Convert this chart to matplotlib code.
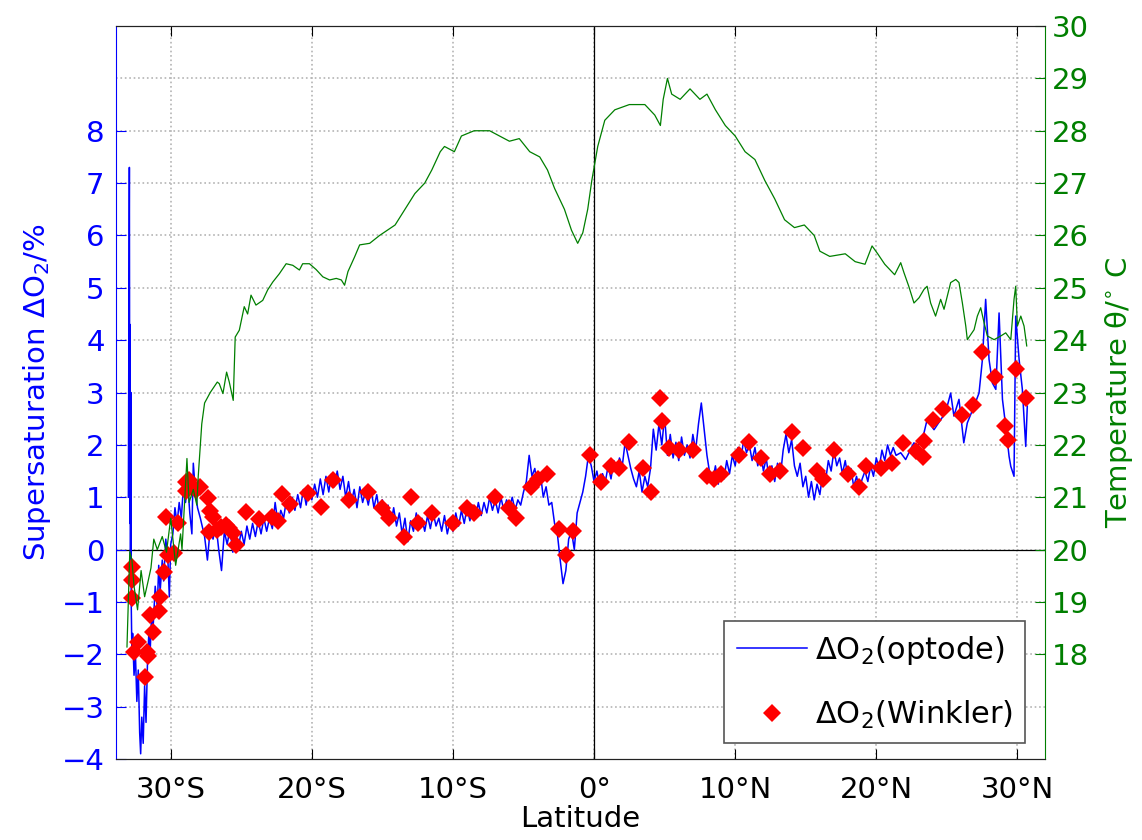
import numpy as np
import matplotlib
matplotlib.use("Agg")
import matplotlib.pyplot as plt

plt.rcParams['font.family'] = ['DejaVu Sans']
plt.rcParams['mathtext.fontset'] = 'dejavusans'

# optode supersaturation (latitude, %), read in three stretches
south_lat = [-33.0, -32.93, -32.9, -32.88, -32.85, -32.82, -32.8, -32.75, -32.7, -32.6, -32.5, -32.4,
             -32.3, -32.2, -32.13, -32.05, -31.95, -31.85, -31.75, -31.65, -31.55, -31.45, -31.35,
             -31.25, -31.1, -30.95, -30.85, -30.75, -30.6, -30.5, -30.35, -30.2, -30.1, -30.0,
             -29.85, -29.7, -29.55, -29.4, -29.25, -29.1, -28.95, -28.8, -28.65, -28.5, -28.4,
             -28.25, -28.1, -27.9, -27.6, -27.4, -27.2]
south_val = [1.0, 7.3, 0.5, 4.3, -0.3, 3.0, -1.0, -2.0, -1.6, -2.4, -2.0, -2.9,
             -2.3, -3.5, -3.9, -3.2, -3.7, -2.6, -3.3, -2.2, -1.6, -1.9, -1.2,
             -1.5, -0.7, -1.1, -0.3, -0.8, -0.2, -0.6, 0.2, -0.2, -0.9, 0.1,
             0.3, 0.8, 0.5, 0.9, 0.6, 1.2, 0.9, 1.3, 0.7, 0.3, 1.65,
             1.1, 0.8, 0.6, 0.25, -0.2, 0.4]

mid_lat = [-27.0, -26.8, -26.6, -26.4, -26.2, -26.0, -25.8, -25.6, -25.4, -25.2,
           -25.0, -24.8, -24.6, -24.4, -24.2, -24.0, -23.8, -23.6, -23.4, -23.2,
           -23.0, -22.8, -22.6, -22.4, -22.2, -22.0, -21.8, -21.6, -21.4, -21.2,
           -21.0, -20.8, -20.6, -20.4, -20.2, -20.0, -19.8, -19.6, -19.4, -19.2,
           -19.0, -18.8, -18.6, -18.4, -18.2, -18.0, -17.8, -17.6, -17.4, -17.2,
           -17.0, -16.8, -16.6, -16.4, -16.2, -16.0, -15.8, -15.6, -15.4, -15.2,
           -15.0, -14.8, -14.6, -14.4, -14.2, -14.0, -13.8, -13.6, -13.4, -13.2,
           -13.0, -12.8, -12.6, -12.4, -12.2, -12.0, -11.8, -11.6, -11.4, -11.2,
           -11.0, -10.8, -10.6, -10.4, -10.2, -10.0, -9.8, -9.6, -9.4, -9.2,
           -9.0, -8.8, -8.6, -8.4, -8.2, -8.0, -7.8, -7.6, -7.4, -7.2,
           -7.0, -6.8, -6.6, -6.4, -6.2, -6.0, -5.8, -5.6, -5.4, -5.2,
           -5.0, -4.8, -4.6, -4.4, -4.2, -4.0, -3.8, -3.6, -3.4, -3.2,
           -3.0, -2.8, -2.6, -2.4, -2.2, -2.0, -1.8, -1.6, -1.4, -1.2,
           -1.0, -0.8, -0.6, -0.4, -0.2, 0.0, 0.2, 0.4, 0.6, 0.8,
           1.0, 1.2, 1.4, 1.6, 1.8, 2.0, 2.2, 2.4, 2.6, 2.8,
           3.0, 3.2, 3.4, 3.6, 3.8, 4.0, 4.2, 4.4, 4.6, 4.8,
           5.0, 5.2, 5.4, 5.6, 5.8, 6.0, 6.2, 6.4, 6.6, 6.8,
           7.0, 7.2, 7.4, 7.6, 7.8, 8.0, 8.2, 8.4, 8.6, 8.8,
           9.0, 9.2, 9.4, 9.6, 9.8, 10.0, 10.2, 10.4, 10.6, 10.8,
           11.0, 11.2, 11.4, 11.6, 11.8, 12.0, 12.2, 12.4, 12.6, 12.8,
           13.0, 13.2, 13.4, 13.6, 13.8, 14.0, 14.2, 14.4, 14.6, 14.8,
           15.0, 15.2, 15.4, 15.6, 15.8, 16.0, 16.2, 16.4, 16.6, 16.8,
           17.0, 17.2, 17.4, 17.6, 17.8, 18.0, 18.2, 18.4, 18.6, 18.8,
           19.0, 19.2, 19.4, 19.6, 19.8, 20.0, 20.2, 20.4, 20.6, 20.8,
           21.0, 21.2]
mid_val = [0.2, 0.5, 0.0, -0.4, 0.35, 0.1, 0.4, -0.05, 0.35, 0.05,
           0.35, 0.1, 0.45, 0.2, 0.5, 0.25, 0.55, 0.3, 0.6, 0.35,
           0.6, 0.4, 0.9, 0.5, 0.75, 0.6, 0.95, 0.7, 1.0, 0.75,
           1.05, 0.8, 1.15, 0.85, 1.2, 0.95, 1.25, 1.0, 1.35, 1.05,
           1.4, 1.1, 1.45, 1.2, 1.5, 1.15, 1.4, 1.0, 1.3, 0.9,
           1.15, 0.8, 1.2, 0.9, 1.1, 0.85, 1.15, 0.8, 1.05, 0.7,
           0.95, 0.6, 0.85, 0.5, 0.8, 0.45, 0.7, 0.3, 0.6, 0.15,
           0.55, 0.35, 0.7, 0.4, 0.6, 0.35, 0.65, 0.4, 0.7, 0.45,
           0.6, 0.35, 0.65, 0.3, 0.55, 0.35, 0.7, 0.45, 0.75, 0.5,
           0.8, 0.55, 0.85, 0.6, 0.9, 0.65, 0.9, 0.7, 1.0, 0.75,
           0.95, 0.7, 1.0, 0.75, 0.95, 0.8, 1.0, 0.75, 0.95, 0.85,
           1.1, 1.3, 1.8, 1.4, 1.55, 1.2, 1.45, 1.0, 1.2, 0.85,
           0.9, 0.5, 0.3, -0.2, -0.65, -0.4, 0.2, 0.35, 0.0, 0.7,
           0.9, 1.1, 1.4, 1.8, 1.6, 1.3, 1.5, 1.2, 1.45, 1.3,
           1.6, 1.35, 1.7, 1.5, 1.75, 1.6, 2.05, 1.8, 1.55, 1.35,
           1.2, 1.5, 1.1, 1.4, 1.2, 1.55, 2.3, 1.9, 2.4, 2.0,
           2.55, 1.8, 2.2, 1.75, 2.05, 1.7, 2.15, 1.8, 2.0, 1.75,
           2.2, 1.9, 2.4, 2.8, 2.3, 1.8, 1.45, 1.3, 1.6, 1.25,
           1.55, 1.35, 1.7, 1.45, 1.8, 1.6, 1.95, 1.7, 2.1, 1.85,
           2.0, 1.7, 1.95, 1.6, 1.85, 1.5, 1.75, 1.35, 1.6, 1.3,
           1.65, 1.4, 1.9, 2.2, 1.85, 2.1, 1.6, 1.4, 1.65, 1.2,
           1.4, 1.0, 1.3, 0.95, 1.25, 1.05, 1.45, 1.3, 1.7, 1.5,
           1.9, 1.6, 1.75, 1.45, 1.7, 1.35, 1.55, 1.2, 1.4, 1.15,
           1.35, 1.5, 1.3, 1.6, 1.4, 1.75, 1.55, 1.9, 1.7, 2.0,
           1.8, 1.95]

north_lat = [21.4, 21.73, 22.08, 22.4, 22.67, 22.9, 23.38, 23.6, 24.09, 24.56, 24.9, 25.27, 25.5,
             25.86, 26.2, 26.45, 26.93, 27.28, 27.52, 27.75, 27.99, 28.23, 28.47, 28.7, 28.94,
             29.17, 29.41, 29.53, 29.76, 29.88, 30.12, 30.35, 30.59, 30.7]
north_val = [1.8, 1.85, 1.72, 1.9, 2.04, 1.95, 2.23, 2.48, 2.29, 2.48, 2.61, 2.99, 2.55,
             2.87, 2.04, 2.42, 2.74, 2.99, 3.63, 4.78, 3.63, 3.18, 3.06, 4.52, 2.87,
             2.36, 1.78, 1.59, 1.4, 4.46, 3.63, 3.06, 1.97, 2.74]

opt_lat = south_lat + mid_lat + north_lat
opt_val = south_val + mid_val + north_val

# Winkler samples
wink_lat = [-32.77, -32.77, -32.77, -32.6, -32.3, -31.85, -31.66, -31.62, -31.5, -31.26, -30.8,
            -30.78, -30.47, -30.3, -30.17, -29.76, -29.5, -28.93, -28.9, -28.7, -28.2, -27.9,
            -27.35, -27.2, -26.97, -27.27, -26.7, -26.45, -26.05, -25.85, -25.6, -25.4, -24.7,
            -23.77, -22.84, -22.4, -22.13, -21.54, -20.24, -19.38, -18.5, -17.4,
            -16.0, -15.0, -14.5, -13.5, -13.0, -12.5, -11.5, -10.0, -9.0, -8.5, -7.0, -6.0,
            -5.5, -4.5, -4.0, -3.3, -2.5, -2.0, -1.5, -0.3, 0.5, 1.2, 1.8, 2.5, 3.5, 4.0,
            4.7, 4.8, 5.3, 6.0, 7.0, 8.0, 8.5, 9.0, 10.3, 11.0, 11.8, 12.5, 13.2, 14.0,
            14.8, 15.8, 16.2, 17.0, 18.0, 18.8, 19.3, 20.3, 21.1,
            21.92, 22.79, 23.33, 23.38, 24.02, 24.75, 26.1, 26.86, 27.52, 28.42, 29.1,
            29.34, 29.88, 30.64]
wink_val = [-0.34, -0.58, -0.93, -1.95, -1.76, -2.43, -1.95, -2.03, -1.25, -1.57, -1.18,
            -0.9, -0.43, 0.62, -0.11, -0.06, 0.5, 1.3, 1.11, 1.33, 1.14, 1.2,
            0.98, 0.73, 0.63, 0.34, 0.38, 0.44, 0.47, 0.41, 0.31, 0.09, 0.71,
            0.58, 0.62, 0.54, 1.06, 0.87, 1.09, 0.81, 1.33, 0.94,
            1.1, 0.8, 0.6, 0.25, 1.0, 0.5, 0.7, 0.5, 0.8, 0.7, 1.0, 0.8,
            0.6, 1.2, 1.35, 1.45, 0.4, -0.1, 0.35, 1.8, 1.3, 1.6, 1.55, 2.05, 1.55, 1.1,
            2.9, 2.45, 1.95, 1.9, 1.9, 1.4, 1.35, 1.45, 1.8, 2.05, 1.75, 1.45, 1.5, 2.25,
            1.95, 1.5, 1.35, 1.9, 1.45, 1.2, 1.6, 1.55, 1.65,
            2.04, 1.88, 1.77, 2.07, 2.48, 2.68, 2.57, 2.77, 3.77, 3.29, 2.37,
            2.1, 3.44, 2.9]

# potential temperature (latitude, degC)
temp_lat = [-33.1, -32.9, -32.75, -32.6, -32.35, -32.1, -31.85, -31.6, -31.4, -31.2, -30.95,
            -30.6, -30.3, -30.0, -29.65, -29.3, -29.2, -28.85, -28.7, -28.4, -28.15, -28.05,
            -27.8, -27.6, -27.2, -26.7, -26.56, -26.3, -26.04, -25.85, -25.57, -25.43, -25.14,
            -24.79, -24.55, -24.31, -23.96, -23.48, -23.13, -22.77, -22.3, -21.82, -21.35,
            -20.88, -20.65, -20.17, -19.7, -19.22, -18.74, -18.27, -17.91, -17.68, -17.44,
            -16.97, -16.61, -15.9, -15.2, -14.1, -13.4, -12.7, -12.0, -11.5, -10.9, -10.6,
            -9.9, -9.4, -8.5, -7.4, -6.7, -6.0, -5.3, -4.56, -3.85, -3.3, -2.8, -2.1, -1.6,
            -1.16, -0.8, -0.45, -0.16, 0.26, 0.76, 1.47, 2.5, 3.6, 4.3, 4.7, 4.9, 5.2, 5.5,
            6.1, 6.8, 7.5, 8.0, 8.6, 9.3, 10.0, 10.7, 11.4, 12.1, 12.8, 13.5, 14.2, 14.9,
            15.6, 16.0, 16.7, 17.8, 18.5, 19.2, 19.7, 20.1, 20.6, 21.3, 21.73, 21.96, 22.3,
            22.67, 23.03, 23.38, 23.6, 23.85, 24.2, 24.56, 24.8, 25.27, 25.63, 25.86, 26.1,
            26.34, 26.45, 26.93, 27.16, 27.4, 27.64, 27.87, 28.35, 28.82, 29.17, 29.53, 29.76,
            29.88, 30.0, 30.24, 30.47, 30.66]
temp_val = [18.14, 19.96, 19.8, 19.3, 18.85, 19.6, 19.1, 19.4, 19.65, 20.2, 20.0,
            20.25, 19.95, 20.6, 19.7, 20.3, 20.0, 21.74, 20.9, 21.15, 20.85, 21.4,
            22.4, 22.8, 23.0, 23.2, 23.17, 22.98, 23.39, 23.2, 22.85, 24.06, 24.19,
            24.64, 24.5, 24.86, 24.67, 24.76, 24.96, 25.11, 25.27, 25.46, 25.43,
            25.34, 25.46, 25.46, 25.35, 25.21, 25.15, 25.18, 25.15, 25.05, 25.31,
            25.59, 25.82, 25.85, 26.0, 26.2, 26.5, 26.8, 27.0, 27.25, 27.6, 27.7,
            27.6, 27.9, 28.0, 28.0, 27.9, 27.8, 27.85, 27.6, 27.5, 27.25, 26.9, 26.5, 26.1,
            25.85, 26.05, 26.5, 27.05, 27.7, 28.2, 28.4, 28.5, 28.5, 28.3, 28.1, 28.6, 29.0, 28.7,
            28.6, 28.8, 28.6, 28.7, 28.4, 28.1, 27.9, 27.6, 27.45, 27.05, 26.7, 26.3, 26.15, 26.2,
            26.0, 25.7, 25.6, 25.65, 25.5, 25.45, 25.8, 25.65, 25.45, 25.25, 25.48, 25.29, 25.03,
            24.71, 24.81, 24.97, 25.03, 24.71, 24.46, 24.78, 24.59, 25.1, 25.16, 25.1, 24.71,
            24.27, 24.01, 24.2, 24.46, 24.62, 24.33, 24.08, 24.01, 24.08, 24.14, 24.01, 24.78,
            25.03, 24.27, 24.46, 24.27, 23.89]

lat_ticks = [-30, -20, -10, 0, 10, 20, 30]
lat_labels = ['30°S', '20°S', '10°S', '0°', '10°N', '20°N', '30°N']

FS = 21
green = '#007f00'

fig = plt.figure(figsize=(11.42, 8.4), dpi=100)
ax = fig.add_axes([0.1013, 0.0964, 0.8137, 0.8726])
ax2 = ax.twinx()

grid_kw = dict(color='#b4b4b4', linestyle=':', linewidth=1.2)
for t in lat_ticks:
    ax.axvline(t, zorder=0, **grid_kw)
for v in range(-3, 10):
    ax.axhline(v, zorder=0, **grid_kw)
ax.axhline(0, color='black', linewidth=0.9, zorder=1)
ax.axvline(0, color='black', linewidth=0.9, zorder=1)

l1, = ax.plot(opt_lat, opt_val, color='blue', linewidth=1.1, zorder=2)
ax.errorbar(wink_lat, wink_val, xerr=0.25, fmt='none', ecolor='red', elinewidth=1, zorder=3)
l2, = ax.plot(wink_lat, wink_val, linestyle='none', marker='D', markersize=9,
              color='red', markeredgewidth=0, zorder=4)

ax2.plot(temp_lat, temp_val, color=green, linewidth=0.9)

ax.set_xlim(-33.9, 31.95)
ax.set_ylim(-4, 10)
ax2.set_ylim(16, 30)
ax.set_xticks(lat_ticks)
ax.set_xticklabels(lat_labels, fontsize=FS)
ax.set_yticks(range(-4, 9))
ax2.set_yticks(range(18, 31))

ax.tick_params(axis='x', direction='in', length=7, top=True, colors='black', pad=12)
ax.tick_params(axis='y', direction='in', length=7, colors='blue', labelsize=FS, pad=8)
ax2.tick_params(axis='y', direction='in', length=7, colors=green, labelsize=FS, pad=5)

ax.spines['left'].set_color('blue')
ax2.spines['left'].set_visible(False)
ax2.spines['right'].set_color(green)
ax.spines['right'].set_visible(False)
for s in ['top', 'bottom']:
    ax.spines[s].set_color('#222222')
    ax2.spines[s].set_color('#222222')

ax.set_xlabel('Latitude', fontsize=FS, labelpad=1)
ax.set_ylabel('Supersaturation ΔO$_2$/%', fontsize=FS, color='blue', labelpad=6)
ax2.set_ylabel('Temperature θ/$^{\\circ}$ C', fontsize=FS, color=green, labelpad=10)

leg = ax2.legend([l1, l2], ['ΔO$_2$(optode)', 'ΔO$_2$(Winkler)'],
                 loc='lower right', bbox_to_anchor=(0.9785, 0.0218), fontsize=FS + 1,
                 frameon=True, fancybox=False, edgecolor='#555555', framealpha=1,
                 handlelength=2.3, handletextpad=0.25, borderpad=0.4, labelspacing=1.05,
                 borderaxespad=0)
leg.get_frame().set_linewidth(1.2)

fig.savefig('out.png', dpi=100)
